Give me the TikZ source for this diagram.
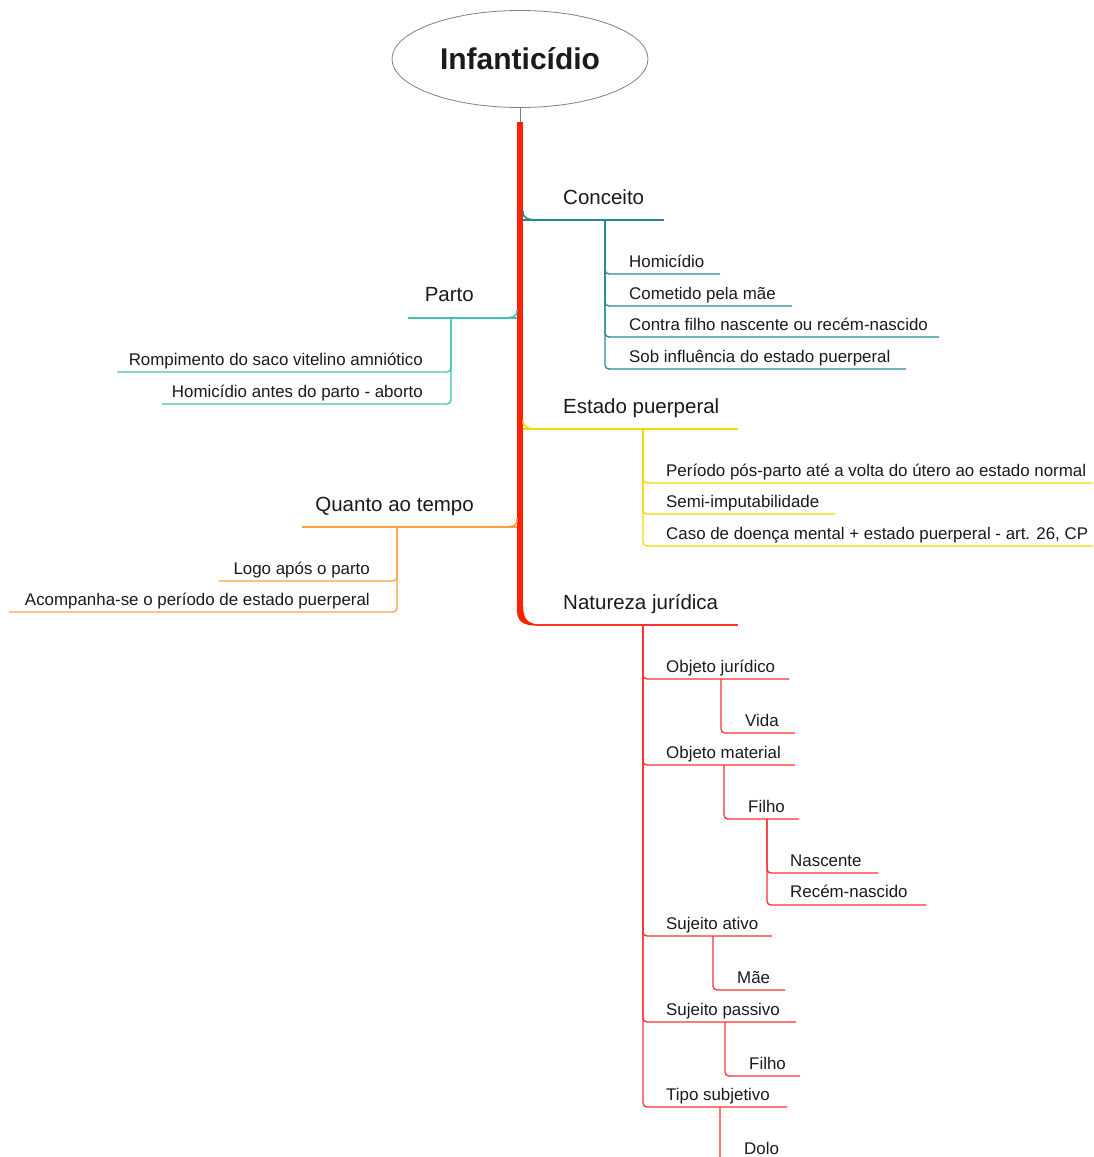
\documentclass[tikz,border=0pt]{standalone}
\usepackage{fontspec}
\setmainfont{Liberation Sans}
\usetikzlibrary{shapes.geometric}
\definecolor{cteal}{HTML}{23879A}
\definecolor{cturq}{HTML}{3CC4B0}
\definecolor{cyel}{HTML}{FFD400}
\definecolor{corg}{HTML}{FF9E3D}
\definecolor{cred}{HTML}{FF3030}
\definecolor{ctrunk}{HTML}{FF2200}
\definecolor{ctxt}{HTML}{1A1A1A}
\tikzset{
  rootnode/.style={ellipse, draw=gray, line width=0.8pt, minimum width=256pt, minimum height=97pt, inner sep=0pt, text=ctxt, font=\bfseries\fontsize{30}{34}\selectfont},
  brl/.style={inner sep=0pt, anchor=base west, text=ctxt, font=\fontsize{20.5}{24}\selectfont},
  brr/.style={brl, anchor=base east},
  lbl/.style={inner sep=0pt, anchor=base west, text=ctxt, font=\fontsize{16.9}{20}\selectfont},
  lbr/.style={lbl, anchor=base east},
  conn/.style={line width=1.3pt, rounded corners=4pt},
  jn/.style={line width=1.6pt},
  trunkline/.style={line width=6.5pt, draw=ctrunk}
}
\begin{document}
\begin{tikzpicture}[x=1pt,y=-1pt]
\useasboundingbox (0,0) rectangle (1094,1157);
\clip (0,0) rectangle (1094,1157);

% root and trunk
\node[rootnode] (root) at (520,59) {Infanticídio};
\coordinate (trunkTop) at (520,122);
\coordinate (trunkLow) at (520,608);
\draw[gray, line width=0.8pt] (root.south) -- (trunkTop);
\draw[trunkline] (trunkTop) -- (trunkLow);
\fill[ctrunk] (516.75,607) .. controls (516.75,620) and (520,625.6) .. (538,625.7)
  -- (538,624.4) .. controls (527,623.5) and (523.25,618) .. (523.25,607) -- cycle;

% ---------- Conceito ----------
\node[brl] (conceito) at (563,204) {Conceito};
\coordinate (conceitoE) at (664,220);
\coordinate (conceitoV) at (605,220);
\draw[cteal, jn] (523,211) .. controls (523,219) and (527,220) .. (542,220);
\draw[cteal, conn] (523,220) -- (conceitoE);

\node[lbl] (homicidio) at (629,267) {Homicídio};
\coordinate (homicidioE) at (720,274);
\draw[cteal, conn] (conceitoV) |- (homicidioE);
\node[lbl] (cometido) at (629,299) {Cometido pela mãe};
\coordinate (cometidoE) at (792,306);
\draw[cteal, conn] (conceitoV) |- (cometidoE);
\node[lbl] (contra) at (629,330) {Contra filho nascente ou recém-nascido};
\coordinate (contraE) at (939,337);
\draw[cteal, conn] (conceitoV) |- (contraE);
\node[lbl] (sob) at (629,362) {Sob influência do estado puerperal};
\coordinate (sobE) at (906,369);
\draw[cteal, conn] (conceitoV) |- (sobE);

% ---------- Parto ----------
\node[brr] (parto) at (474,301) {Parto};
\coordinate (partoE) at (408,318);
\coordinate (partoV) at (451,318);
\draw[cturq, jn] (517,310) .. controls (517,317) and (514,318) .. (500,318);
\draw[cturq, conn] (517,318) -- (partoE);

\node[lbr] (rompimento) at (423,365) {Rompimento do saco vitelino amniótico};
\coordinate (rompimentoE) at (117,372);
\draw[cturq, conn] (partoV) |- (rompimentoE);
\node[lbr] (antes) at (423,397) {Homicídio antes do parto - aborto};
\coordinate (antesE) at (162,404);
\draw[cturq, conn] (partoV) |- (antesE);

% ---------- Estado puerperal ----------
\node[brl] (estado) at (563,413) {Estado puerperal};
\coordinate (estadoE) at (738,429);
\coordinate (estadoV) at (643,429);
\draw[cyel, jn] (523,420) .. controls (523,428) and (527,429) .. (542,429);
\draw[cyel, conn] (523,429) -- (estadoE);

\node[lbl] (periodo) at (666,476) {Período pós-parto até a volta do útero ao estado normal};
\coordinate (periodoE) at (1093,483);
\draw[cyel, conn] (estadoV) |- (periodoE);
\node[lbl] (semi) at (666,507) {Semi-imputabilidade};
\coordinate (semiE) at (835,514);
\draw[cyel, conn] (estadoV) |- (semiE);
\node[lbl] (caso) at (666,539) {Caso de doença mental + estado puerperal - art. 26, CP};
\coordinate (casoE) at (1093,546);
\draw[cyel, conn] (estadoV) |- (casoE);

% ---------- Quanto ao tempo ----------
\node[brr] (quanto) at (474,511) {Quanto ao tempo};
\coordinate (quantoE) at (302,527);
\coordinate (quantoV) at (397,527);
\draw[corg, jn] (517,519) .. controls (517,526) and (514,527) .. (500,527);
\draw[corg, conn] (517,527) -- (quantoE);

\node[lbr] (logo) at (370,574) {Logo após o parto};
\coordinate (logoE) at (219,581);
\draw[corg, conn] (quantoV) |- (logoE);
\node[lbr] (acompanha) at (370,605) {Acompanha-se o período de estado puerperal};
\coordinate (acompanhaE) at (9,612);
\draw[corg, conn] (quantoV) |- (acompanhaE);

% ---------- Natureza jurídica ----------
\node[brl] (natureza) at (563,609) {Natureza jurídica};
\coordinate (naturezaE) at (738,625);
\coordinate (naturezaV) at (643,625);
\draw[cred, conn] (536,625) -- (naturezaE);

\node[lbl] (objjur) at (666,672) {Objeto jurídico};
\coordinate (objjurE) at (789,679);
\draw[cred, conn] (naturezaV) |- (objjurE);
\coordinate (objjurV) at (721,679);
\node[lbl] (vida) at (745,726) {Vida};
\coordinate (vidaE) at (795,733);
\draw[cred, conn] (objjurV) |- (vidaE);

\node[lbl] (objmat) at (666,758) {Objeto material};
\coordinate (objmatE) at (795,765);
\draw[cred, conn] (naturezaV) |- (objmatE);
\coordinate (objmatV) at (724,765);
\node[lbl] (filho) at (748,812) {Filho};
\coordinate (filhoE) at (799,819);
\draw[cred, conn] (objmatV) |- (filhoE);
\coordinate (filhoV) at (767,819);
\node[lbl] (nascente) at (790,866) {Nascente};
\coordinate (nascenteE) at (878,873);
\draw[cred, conn] (filhoV) |- (nascenteE);
\node[lbl] (recem) at (790,897) {Recém-nascido};
\coordinate (recemE) at (926,905);
\draw[cred, conn] (filhoV) |- (recemE);

\node[lbl] (ativo) at (666,929) {Sujeito ativo};
\coordinate (ativoE) at (772,936);
\draw[cred, conn] (naturezaV) |- (ativoE);
\coordinate (ativoV) at (713,936);
\node[lbl] (mae) at (737,983) {Mãe};
\coordinate (maeE) at (785,990);
\draw[cred, conn] (ativoV) |- (maeE);

\node[lbl] (passivo) at (666,1015) {Sujeito passivo};
\coordinate (passivoE) at (796,1022);
\draw[cred, conn] (naturezaV) |- (passivoE);
\coordinate (passivoV) at (725,1022);
\node[lbl] (filhob) at (749,1069) {Filho};
\coordinate (filhobE) at (800,1076);
\draw[cred, conn] (passivoV) |- (filhobE);

\node[lbl] (tipo) at (666,1100) {Tipo subjetivo};
\coordinate (tipoE) at (787,1107);
\draw[cred, conn] (naturezaV) |- (tipoE);
\coordinate (tipoV) at (720,1107);
\node[lbl] (dolo) at (744,1154) {Dolo};
\coordinate (doloE) at (792,1161);
\draw[cred, conn] (tipoV) |- (doloE);
\end{tikzpicture}
\end{document}
